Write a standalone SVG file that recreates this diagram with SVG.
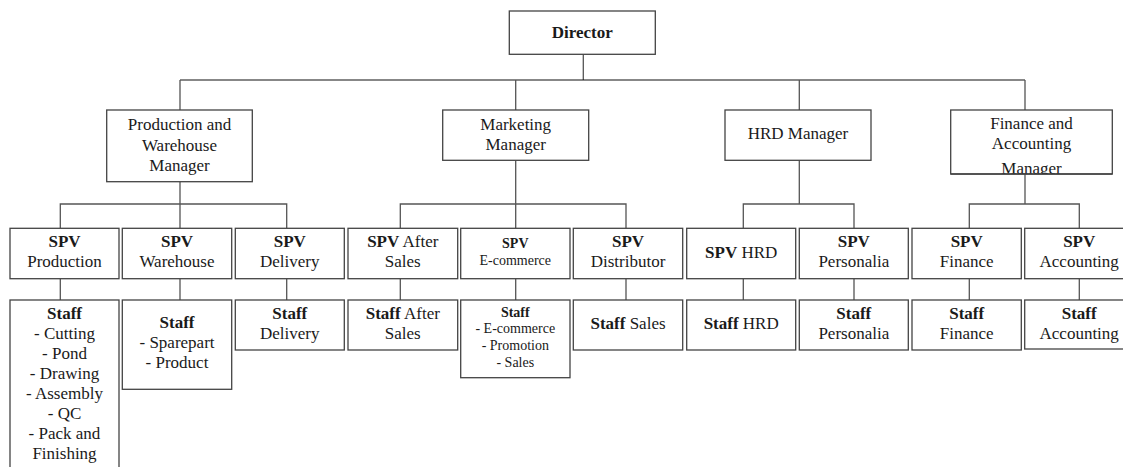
<svg xmlns="http://www.w3.org/2000/svg" width="1123" height="467" viewBox="0 0 1123 467">
<style>
.box{fill:#fff;stroke:#444;stroke-width:1.3}
.t{font-family:"Liberation Serif","Times New Roman",serif;font-size:17px;fill:#1a1a1a;text-anchor:middle}
.s{font-size:14px}
.b{font-weight:bold}
.c{fill:none;stroke:#555;stroke-width:1.3}
.bus{fill:none;stroke:#111;stroke-width:1.2}
</style>
<defs>
<clipPath id="finClip"><rect x="950.7" y="110" width="161.6" height="64"/></clipPath>
</defs>
<rect width="1123" height="467" fill="#fff"/>
<g id="connectors">
<line class="c" x1="583.3" y1="54.3" x2="583.3" y2="80"/>
<line class="bus" x1="180" y1="80" x2="1025" y2="80"/>
<path class="c" d="M180 80V110M515.7 80V110M799.3 80V110M1025 80V110"/>
<path class="c" d="M180 181.7V204M515.7 160.3V204M799.3 160.3V204M1025 174V204"/>
<path class="c" d="M60.3 228.3V204H286.7V228.3M180 204V228.3"/>
<path class="c" d="M400.3 228.3V204H626V228.3M515.7 204V228.3"/>
<path class="c" d="M743.3 228.3V204H854V228.3"/>
<path class="c" d="M969.3 228.3V204H1079.3V228.3"/>
<path class="c" d="M60.3 278.7V300M180 278.7V300M286.7 278.7V300M400.3 278.7V300M515.7 278.7V300M626 278.7V300M743.3 278.7V300M854 278.7V300M969.3 278.7V300M1079.3 278.7V300"/>
</g>
<g id="director">
<rect class="box" x="509.3" y="11" width="146" height="43.3"/>
<text class="t b" x="582.3" y="37.7">Director</text>
</g>
<g id="production-manager">
<rect class="box" x="106.7" y="110" width="145.6" height="71.7"/>
<text class="t" x="179.5" y="130">Production and</text>
<text class="t" x="179.5" y="150.7">Warehouse</text>
<text class="t" x="179.5" y="170.7">Manager</text>
</g>
<g id="marketing-manager">
<rect class="box" x="442.7" y="110" width="146" height="50.3"/>
<text class="t" x="515.7" y="130">Marketing</text>
<text class="t" x="515.7" y="150">Manager</text>
</g>
<g id="hrd-manager">
<rect class="box" x="725" y="110" width="146" height="50.3"/>
<text class="t" x="798" y="139.3">HRD Manager</text>
</g>
<g id="finance-manager">
<rect class="box" x="950.7" y="110" width="161.6" height="64"/>
<text class="t" x="1031.5" y="129">Finance and</text>
<text class="t" x="1031.5" y="149">Accounting</text>
<text class="t" x="1031.5" y="173.5" clip-path="url(#finClip)">Manager</text>
<line x1="950.7" y1="174" x2="1112.3" y2="174" stroke="#444" stroke-width="1.3"/>
</g>
<g id="spv-production">
<rect class="box" x="10" y="228.3" width="109" height="50.4"/>
<text class="t b" x="64.5" y="246.7">SPV</text>
<text class="t" x="64.5" y="267.3">Production</text>
</g>
<g id="spv-warehouse">
<rect class="box" x="122.3" y="228.3" width="109.4" height="50.4"/>
<text class="t b" x="177" y="246.7">SPV</text>
<text class="t" x="177" y="267.3">Warehouse</text>
</g>
<g id="spv-delivery">
<rect class="box" x="235.3" y="228.3" width="109" height="50.4"/>
<text class="t b" x="289.8" y="246.7">SPV</text>
<text class="t" x="289.8" y="267.3">Delivery</text>
</g>
<g id="spv-after-sales">
<rect class="box" x="348" y="228.3" width="109.7" height="50.4"/>
<text class="t" x="402.8" y="246.7"><tspan class="b">SPV</tspan> After</text>
<text class="t" x="402.8" y="267.3">Sales</text>
</g>
<g id="spv-ecommerce">
<rect class="box" x="460.7" y="228.3" width="109.3" height="50.4"/>
<text class="t s b" x="515.3" y="248.3">SPV</text>
<text class="t s" x="515.3" y="265">E-commerce</text>
</g>
<g id="spv-distributor">
<rect class="box" x="573.3" y="228.3" width="109.4" height="50.4"/>
<text class="t b" x="628" y="246.7">SPV</text>
<text class="t" x="628" y="267.3">Distributor</text>
</g>
<g id="spv-hrd">
<rect class="box" x="686.7" y="228.3" width="109" height="50.4"/>
<text class="t" x="741.2" y="258.3"><tspan class="b">SPV</tspan> HRD</text>
</g>
<g id="spv-personalia">
<rect class="box" x="799.3" y="228.3" width="109" height="50.4"/>
<text class="t b" x="853.8" y="246.7">SPV</text>
<text class="t" x="853.8" y="267.3">Personalia</text>
</g>
<g id="spv-finance">
<rect class="box" x="912" y="228.3" width="109.3" height="50.4"/>
<text class="t b" x="966.7" y="246.7">SPV</text>
<text class="t" x="966.7" y="267.3">Finance</text>
</g>
<g id="spv-accounting">
<rect class="box" x="1024.7" y="228.3" width="109" height="50.4"/>
<text class="t b" x="1079.2" y="246.7">SPV</text>
<text class="t" x="1079.2" y="267.3">Accounting</text>
</g>
<g id="staff-production">
<rect class="box" x="10" y="300" width="109" height="180"/>
<text class="t b" x="64.5" y="319.3">Staff</text>
<text class="t" x="64.5" y="339.3">- Cutting</text>
<text class="t" x="64.5" y="359.3">- Pond</text>
<text class="t" x="64.5" y="379.3">- Drawing</text>
<text class="t" x="64.5" y="399.3">- Assembly</text>
<text class="t" x="64.5" y="419.3">- QC</text>
<text class="t" x="64.5" y="439.3">- Pack and</text>
<text class="t" x="64.5" y="459.3">Finishing</text>
</g>
<g id="staff-warehouse">
<rect class="box" x="122.3" y="300" width="109.4" height="89.3"/>
<text class="t b" x="177" y="328.3">Staff</text>
<text class="t" x="177" y="348.3">- Sparepart</text>
<text class="t" x="177" y="368.3">- Product</text>
</g>
<g id="staff-delivery">
<rect class="box" x="235.3" y="300" width="109" height="50"/>
<text class="t b" x="289.8" y="319.3">Staff</text>
<text class="t" x="289.8" y="339.3">Delivery</text>
</g>
<g id="staff-after-sales">
<rect class="box" x="348" y="300" width="109.7" height="50"/>
<text class="t" x="402.8" y="319.3"><tspan class="b">Staff</tspan> After</text>
<text class="t" x="402.8" y="339.3">Sales</text>
</g>
<g id="staff-ecommerce">
<rect class="box" x="460.7" y="300" width="109.3" height="77.7"/>
<text class="t s b" x="515.3" y="316.7">Staff</text>
<text class="t s" x="515.3" y="333.3">- E-commerce</text>
<text class="t s" x="515.3" y="350">- Promotion</text>
<text class="t s" x="515.3" y="366.7">- Sales</text>
</g>
<g id="staff-sales">
<rect class="box" x="573.3" y="300" width="109.4" height="50"/>
<text class="t" x="628" y="329.3"><tspan class="b">Staff</tspan> Sales</text>
</g>
<g id="staff-hrd">
<rect class="box" x="686.7" y="300" width="109" height="50"/>
<text class="t" x="741.2" y="329.3"><tspan class="b">Staff</tspan> HRD</text>
</g>
<g id="staff-personalia">
<rect class="box" x="799.3" y="300" width="109" height="50"/>
<text class="t b" x="853.8" y="319.3">Staff</text>
<text class="t" x="853.8" y="339.3">Personalia</text>
</g>
<g id="staff-finance">
<rect class="box" x="912" y="300" width="109.3" height="50"/>
<text class="t b" x="966.7" y="319.3">Staff</text>
<text class="t" x="966.7" y="339.3">Finance</text>
</g>
<g id="staff-accounting">
<rect class="box" x="1024.7" y="300" width="109" height="49"/>
<text class="t b" x="1079.2" y="319.3">Staff</text>
<text class="t" x="1079.2" y="339.3">Accounting</text>
</g>
</svg>
